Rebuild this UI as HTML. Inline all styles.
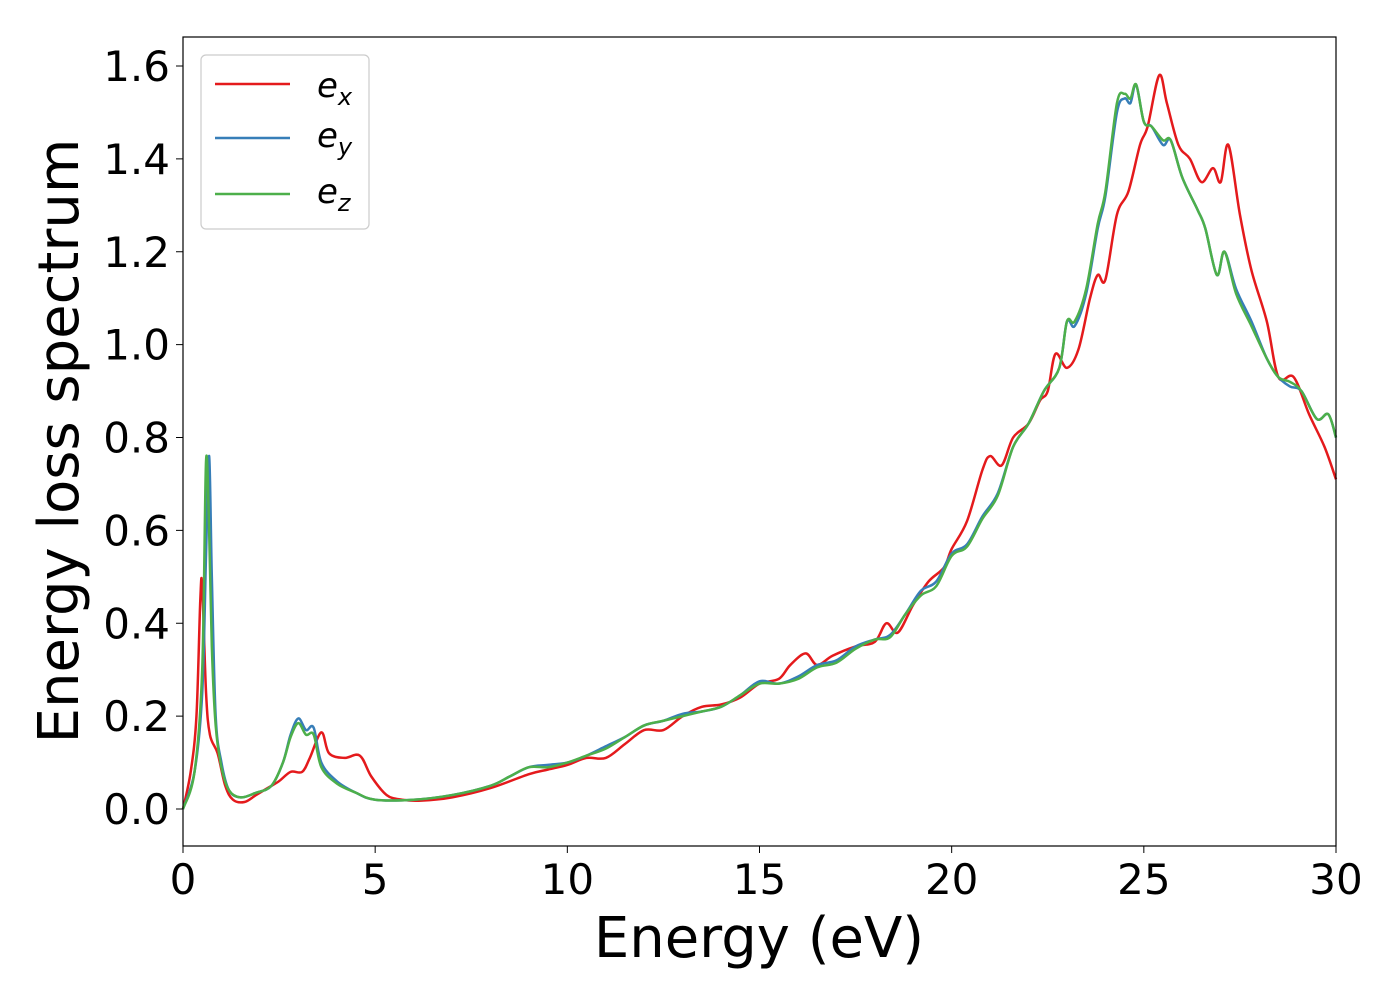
<!DOCTYPE html>
<html><head><meta charset="utf-8"><style>
body{margin:0;background:#fff;}
svg text{font-family:"DejaVu Sans","Liberation Sans",sans-serif;fill:#000;}
</style></head><body>
<svg id="chart" width="1400" height="1000" viewBox="0 0 1400 1000" xmlns="http://www.w3.org/2000/svg">
<rect x="0" y="0" width="1400" height="1000" fill="#fff"/>
<g id="plot"></g>
<rect x="183" y="37" width="1153" height="809" fill="none" stroke="#000" stroke-width="1.2"/>
<g id="ticks"></g>
<text x="759" y="957" font-size="56" text-anchor="middle">Energy (eV)</text>
<text transform="translate(78,441) rotate(-90)" font-size="56" text-anchor="middle">Energy loss spectrum</text>
<g>
<rect x="201" y="55" width="168" height="174" rx="5" fill="#fff" stroke="#ccc" stroke-width="1.2"/>
<line x1="215" y1="84" x2="290" y2="84" stroke="#e41a1c" stroke-width="2.5"/>
<text x="317" y="97" font-size="34" font-style="italic">e<tspan font-size="24" dy="8">x</tspan></text>
<line x1="215" y1="138" x2="290" y2="138" stroke="#377eb8" stroke-width="2.5"/>
<text x="317" y="147" font-size="34" font-style="italic">e<tspan font-size="24" dy="8">y</tspan></text>
<line x1="215" y1="194" x2="290" y2="194" stroke="#4daf4a" stroke-width="2.5"/>
<text x="317" y="203" font-size="34" font-style="italic">e<tspan font-size="24" dy="8">z</tspan></text>
</g>
</svg>
<script>
const energyX=[0,0.2,0.35,0.45,0.5,0.6,0.7,0.9,1.1,1.3,1.6,1.9,2.2,2.5,2.8,3.1,3.3,3.6,3.8,4.2,4.6,4.9,5.3,5.7,6.2,7,8,9,9.5,10,10.5,11,11.5,12,12.5,13,13.5,14,14.5,15,15.5,15.8,16.2,16.5,16.9,17.5,18,18.3,18.6,19,19.4,19.8,20,20.4,20.8,21,21.3,21.6,22,22.3,22.5,22.7,23,23.3,23.6,23.8,24,24.3,24.6,24.9,25.1,25.4,25.6,25.9,26.2,26.5,26.8,27,27.2,27.5,27.8,28.2,28.5,28.9,29.3,29.7,30];
const valuesX=[0,0.08,0.2,0.45,0.48,0.25,0.16,0.12,0.05,0.02,0.015,0.03,0.045,0.06,0.08,0.08,0.11,0.165,0.12,0.11,0.115,0.07,0.03,0.02,0.018,0.025,0.045,0.075,0.085,0.095,0.11,0.11,0.14,0.17,0.17,0.2,0.22,0.225,0.24,0.27,0.28,0.31,0.335,0.31,0.33,0.35,0.36,0.4,0.38,0.44,0.49,0.52,0.56,0.62,0.73,0.76,0.74,0.8,0.83,0.88,0.9,0.98,0.95,0.99,1.1,1.15,1.14,1.28,1.33,1.43,1.47,1.58,1.52,1.43,1.4,1.35,1.38,1.35,1.43,1.28,1.16,1.05,0.93,0.93,0.85,0.78,0.71];
const energyYZ=[0,0.3,0.5,0.6,0.68,0.75,0.85,1.0,1.2,1.5,1.9,2.3,2.6,2.8,3.0,3.2,3.4,3.6,4,4.5,5,6,7,8,8.5,9,9.5,10,10.5,11,11.5,12,12.5,13,13.5,14,14.5,15,15.5,16,16.5,17,17.5,18,18.4,18.8,19.2,19.6,20,20.4,20.8,21.2,21.6,22,22.4,22.8,23,23.2,23.5,23.8,24,24.3,24.5,24.65,24.8,25.0,25.2,25.5,25.7,26,26.4,26.6,26.9,27.1,27.4,27.8,28.2,28.5,28.8,29.1,29.5,29.8,30];
const valuesY=[0,0.08,0.25,0.55,0.76,0.5,0.2,0.1,0.04,0.025,0.035,0.05,0.1,0.16,0.195,0.17,0.175,0.1,0.06,0.035,0.02,0.02,0.03,0.05,0.07,0.09,0.095,0.1,0.115,0.135,0.155,0.18,0.19,0.205,0.21,0.22,0.245,0.275,0.27,0.285,0.31,0.32,0.35,0.365,0.375,0.42,0.47,0.49,0.55,0.57,0.63,0.68,0.78,0.83,0.9,0.95,1.05,1.04,1.11,1.25,1.32,1.5,1.53,1.52,1.56,1.48,1.47,1.43,1.44,1.36,1.29,1.25,1.15,1.2,1.12,1.05,0.97,0.93,0.91,0.9,0.84,0.85,0.8];
const valuesZ=[0,0.08,0.3,0.75,0.6,0.35,0.18,0.09,0.04,0.025,0.035,0.05,0.1,0.155,0.185,0.16,0.16,0.09,0.055,0.035,0.02,0.02,0.03,0.05,0.07,0.09,0.09,0.1,0.115,0.13,0.155,0.18,0.19,0.2,0.21,0.22,0.245,0.27,0.27,0.28,0.305,0.315,0.345,0.365,0.37,0.42,0.46,0.48,0.545,0.565,0.625,0.675,0.78,0.83,0.9,0.95,1.05,1.05,1.12,1.26,1.33,1.52,1.54,1.53,1.56,1.48,1.47,1.44,1.44,1.36,1.29,1.25,1.15,1.2,1.11,1.04,0.97,0.93,0.92,0.9,0.84,0.85,0.8];
const xTicks=[0,5,10,15,20,25,30];
const yTicks=[0.0,0.2,0.4,0.6,0.8,1.0,1.2,1.4,1.6];
const X=v=>183+v*(1153/30);
const Y=v=>809-v*(743/1.6);
const NS="http://www.w3.org/2000/svg";
const plot=document.getElementById('plot');
function smoothPath(xs,ys){
  const p=xs.map((x,i)=>[X(x),Y(ys[i])]);
  let d=`M${p[0][0]},${p[0][1]}`;
  for(let i=0;i<p.length-1;i++){
    const p0=p[i-1]||p[i],p1=p[i],p2=p[i+1],p3=p[i+2]||p2;
    const c1=[p1[0]+(p2[0]-p0[0])/6,p1[1]+(p2[1]-p0[1])/6];
    const c2=[p2[0]-(p3[0]-p1[0])/6,p2[1]-(p3[1]-p1[1])/6];
    d+=` C${c1[0]},${c1[1]} ${c2[0]},${c2[1]} ${p2[0]},${p2[1]}`;
  }
  return d;
}
function addLine(xs,ys,color,name){
  const el=document.createElementNS(NS,'path');
  el.setAttribute('d',smoothPath(xs,ys));
  el.setAttribute('fill','none');el.setAttribute('stroke',color);el.setAttribute('stroke-width','2.5');
  
  
  plot.appendChild(el);
}
addLine(energyX,valuesX,'#e41a1c','series-ex');
addLine(energyYZ,valuesY,'#377eb8','series-ey');
addLine(energyYZ,valuesZ,'#4daf4a','series-ez');
const tg=document.getElementById('ticks');
xTicks.forEach(t=>{
  const l=document.createElementNS(NS,'line');
  l.setAttribute('x1',X(t));l.setAttribute('x2',X(t));l.setAttribute('y1',846);l.setAttribute('y2',853);l.setAttribute('stroke','#000');
  
  
  tg.appendChild(l);
  const tx=document.createElementNS(NS,'text');
  tx.setAttribute('x',X(t));tx.setAttribute('y',894);tx.setAttribute('font-size','42');tx.setAttribute('text-anchor','middle');
  tx.textContent=t;
  
  
  tg.appendChild(tx);
});
yTicks.forEach(t=>{
  const l=document.createElementNS(NS,'line');
  l.setAttribute('x1',176);l.setAttribute('x2',183);l.setAttribute('y1',Y(t));l.setAttribute('y2',Y(t));l.setAttribute('stroke','#000');
  
  
  tg.appendChild(l);
  const tx=document.createElementNS(NS,'text');
  tx.setAttribute('x',170);tx.setAttribute('y',Y(t)+15);tx.setAttribute('font-size','42');tx.setAttribute('text-anchor','end');
  tx.textContent=t.toFixed(1);
  
  
  tg.appendChild(tx);
});
</script>
</body></html>
